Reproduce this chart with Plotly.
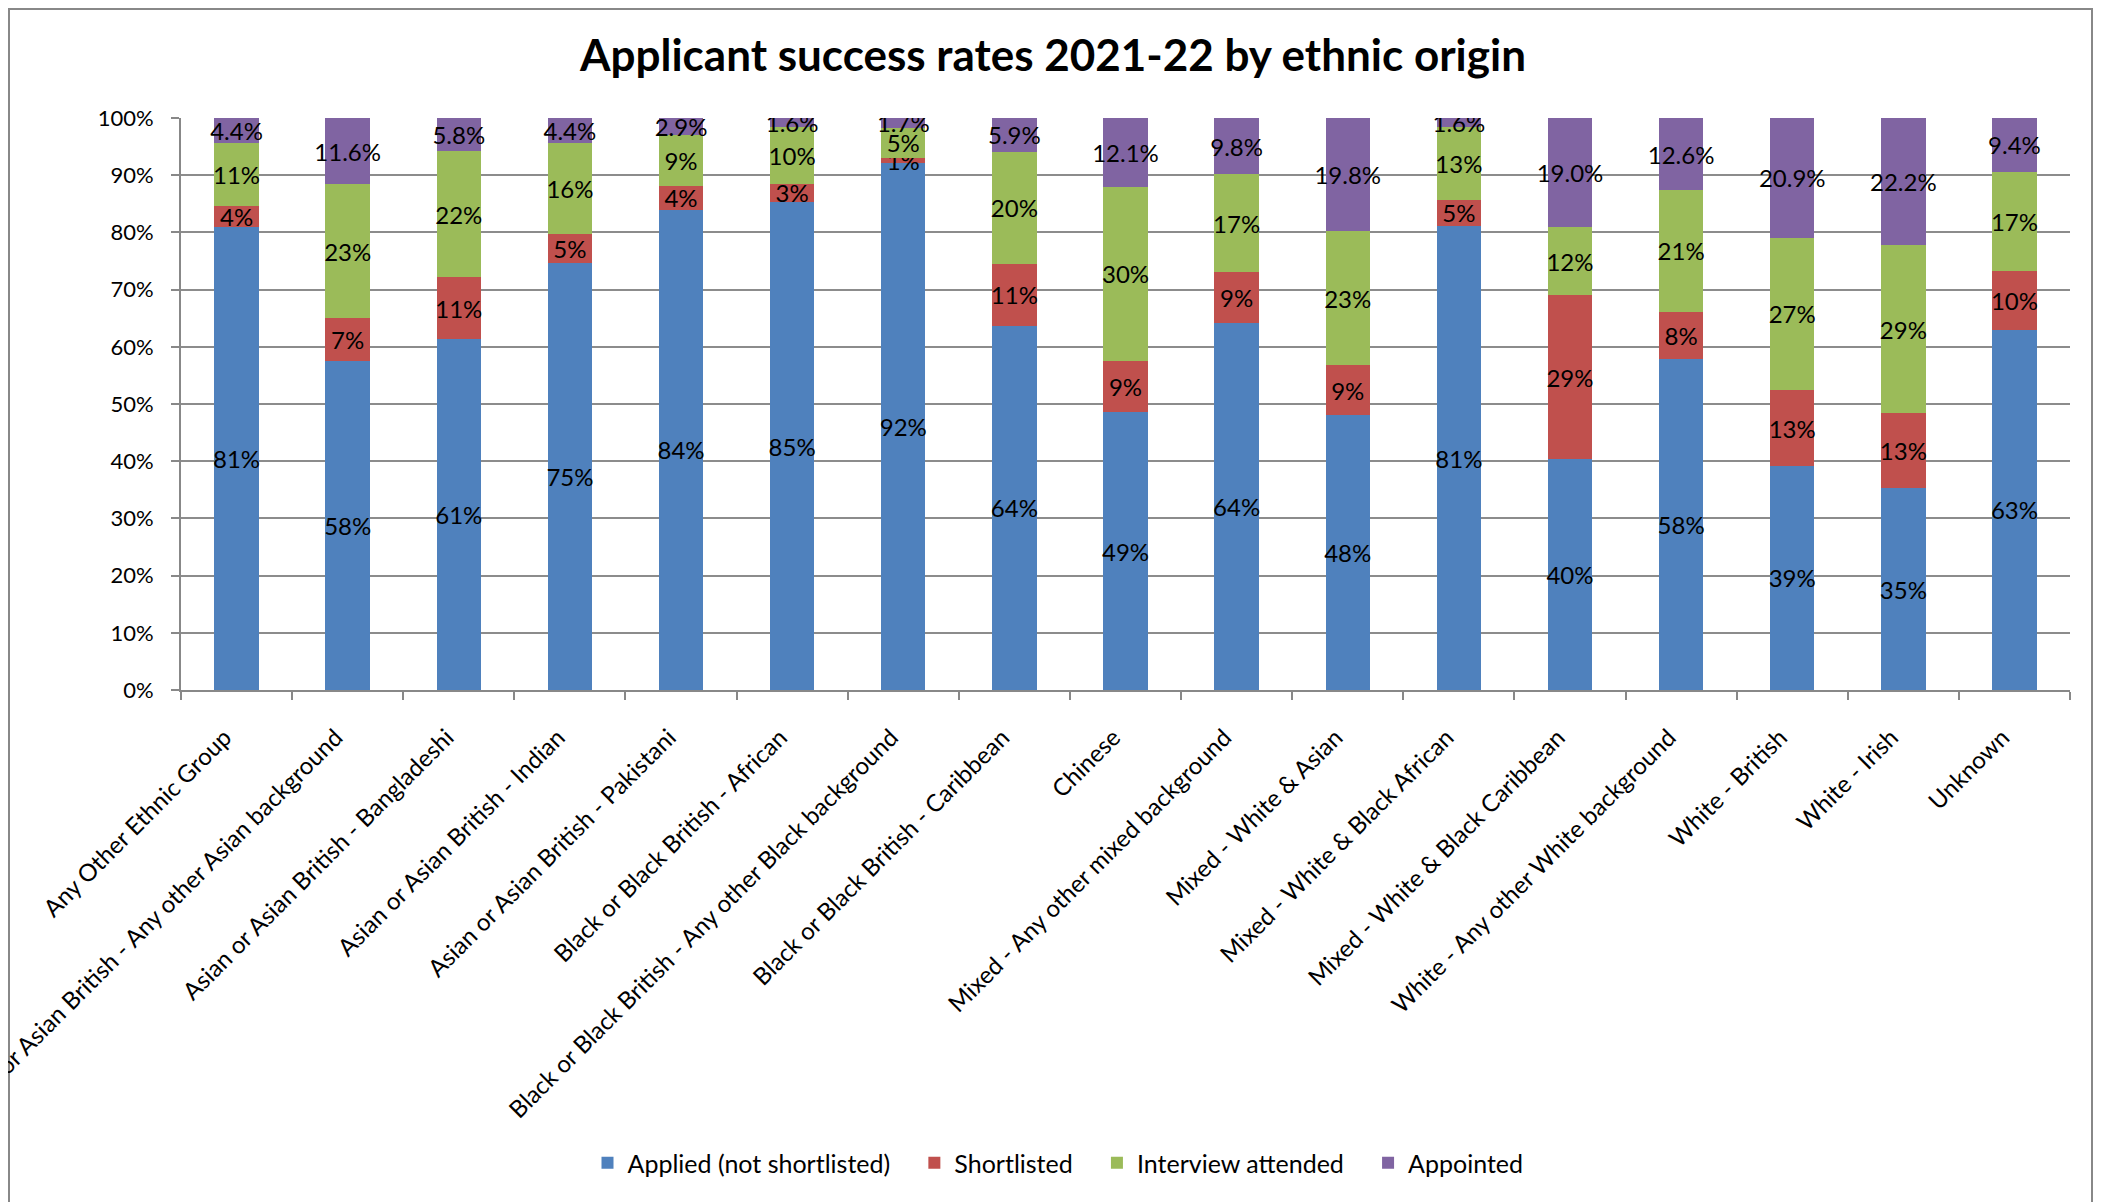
import plotly.graph_objects as go

categories = [
    "Any Other Ethnic Group",
    "Asian or Asian British - Any other Asian background",
    "Asian or Asian British - Bangladeshi",
    "Asian or Asian British - Indian",
    "Asian or Asian British - Pakistani",
    "Black or Black British - African",
    "Black or Black British - Any other Black background",
    "Black or Black British - Caribbean",
    "Chinese",
    "Mixed - Any other mixed background",
    "Mixed - White & Asian",
    "Mixed - White & Black African",
    "Mixed - White & Black Caribbean",
    "White - Any other White background",
    "White - British",
    "White - Irish",
    "Unknown",
]

applied = [81.0, 57.6, 61.3, 74.7, 84.0, 85.3, 92.2, 63.7, 48.6, 64.2, 48.0, 81.1, 40.4, 57.8, 39.2, 35.3, 63.0]
shortlisted = [3.7, 7.4, 10.9, 5.0, 4.1, 3.2, 0.8, 10.8, 9.0, 8.8, 8.8, 4.6, 28.6, 8.3, 13.2, 13.1, 10.2]
interview = [10.9, 23.4, 22.0, 15.9, 9.0, 9.9, 5.3, 19.6, 30.3, 17.2, 23.4, 12.7, 12.0, 21.3, 26.7, 29.4, 17.4]
appointed = [4.4, 11.6, 5.8, 4.4, 2.9, 1.6, 1.7, 5.9, 12.1, 9.8, 19.8, 1.6, 19.0, 12.6, 20.9, 22.2, 9.4]

series_names = ["Applied (not shortlisted)", "Shortlisted", "Interview attended", "Appointed"]
series_values = [applied, shortlisted, interview, appointed]
series_colors = ["#4F81BD", "#C0504D", "#9BBB59", "#8064A2"]
series_formats = ["%{y:.0f}%", "%{y:.0f}%", "%{y:.0f}%", "%{y:.1f}%"]

FONT = "Lato, 'Open Sans', sans-serif"
PAD = "\u00a0" * 3

fig = go.Figure()
for i, (name, vals, color, tmpl) in enumerate(zip(series_names, series_values, series_colors, series_formats)):
    legend_name = name + (PAD if i < len(series_names) - 1 else "")
    fig.add_trace(go.Bar(
        name=legend_name, x=categories, y=vals,
        marker=dict(color=color, line=dict(width=0)),
        texttemplate=tmpl, textposition="inside", insidetextanchor="middle",
        textangle=0, constraintext="none",
        textfont=dict(color="black", size=24, family=FONT),
        hoverinfo="skip",
    ))

# page has an 8px body margin; figure coordinates = page coordinates - 8
W, H = 2101, 1194
L, R, T, B = 173, 2101 - 2062, 110, 1194 - 682
pw = W - L - R
ph = H - T - B

fig.update_layout(
    width=W, height=H,
    barmode="stack", bargap=0.6,
    paper_bgcolor="white", plot_bgcolor="white",
    margin=dict(l=L, r=R, t=T, b=B, autoexpand=False),
    font=dict(family=FONT, color="black", size=22),
    uniformtext=dict(minsize=24, mode="show"),
    title=dict(text="<b>Applicant success rates 2021-22 by ethnic origin</b>",
               x=1045 / W, xanchor="center", xref="container",
               y=1 - 48 / H, yanchor="middle", yref="container",
               font=dict(size=44, family=FONT, color="black")),
    legend=dict(orientation="h", x=(1050 - L) / pw, xanchor="center",
                y=(682 - 1155) / ph, yanchor="middle",
                font=dict(size=25, family=FONT), traceorder="normal",
                itemclick=False, itemdoubleclick=False),
    showlegend=True,
)

fig.update_xaxes(
    type="category", tickangle=-45, tickson="boundaries",
    ticks="outside", ticklen=8, tickcolor="#888888", tickwidth=2,
    showline=True, linecolor="#888888", linewidth=2,
    showgrid=False, tickfont=dict(size=24, family=FONT, color="black"),
    ticklabelstandoff=22, ticklabelshift=-12,
)
fig.update_yaxes(
    range=[0, 100], dtick=10, ticksuffix="%",
    ticks="outside", ticklen=8, tickcolor="#888888", tickwidth=2,
    showline=True, linecolor="#888888", linewidth=2,
    showgrid=True, gridcolor="#8c8c8c", gridwidth=2, zeroline=False,
    tickfont=dict(size=22, family=FONT, color="black"),
    ticklabelstandoff=13,
)

# outer chart border
fig.add_shape(type="rect", xref="paper", yref="paper",
              x0=(1 - L) / pw, x1=(2084 - L) / pw,
              y0=(682 - 1215) / ph, y1=(682 - 1) / ph,
              line=dict(color="#888888", width=2), fillcolor="rgba(0,0,0,0)",
              layer="below")

fig.write_html("out.html")
